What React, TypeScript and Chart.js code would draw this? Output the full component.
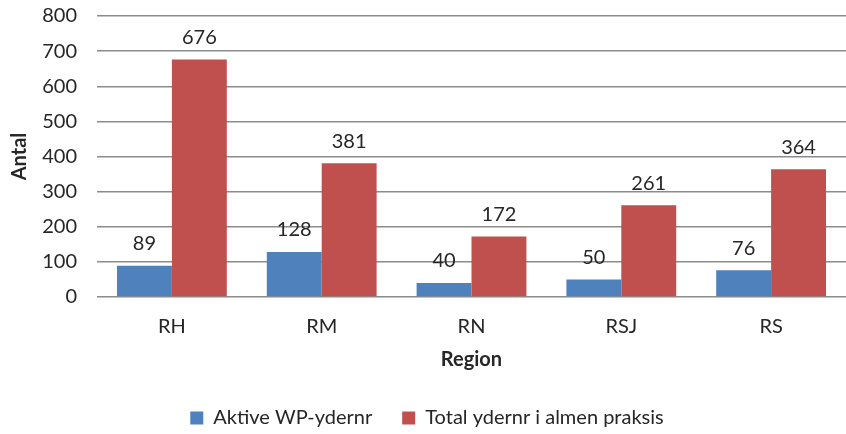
import React, { useEffect, useRef } from "react";
import { Chart, registerables } from "chart.js";

Chart.register(...registerables);

const categories = ["RH", "RM", "RN", "RSJ", "RS"];
const aktive = [89, 128, 40, 50, 76];
const total = [676, 381, 172, 261, 364];
const seriesNames = ["Aktive WP-ydernr", "Total ydernr i almen praksis"];
const yMin = 0;
const yMax = 800;
const yStep = 100;

const FONT = "Lato, 'Open Sans', sans-serif";
const TEXT = "#262626";
const FS = 20;

const valueLabels = {
  id: "valueLabels",
  afterDatasetsDraw(chart: any) {
    const ctx = chart.ctx;
    ctx.save();
    ctx.font = `${FS}px ${FONT}`;
    ctx.fillStyle = TEXT;
    ctx.textAlign = "center";
    ctx.textBaseline = "middle";
    chart.data.datasets.forEach((ds: any, i: number) => {
      const meta = chart.getDatasetMeta(i);
      meta.data.forEach((bar: any, j: number) => {
        ctx.fillText(String(ds.data[j]), bar.x, bar.y - 22);
      });
    });
    ctx.restore();
  },
};

export default function App() {
  const ref = useRef<HTMLCanvasElement>(null);
  useEffect(() => {
    document.body.style.margin = "0";
    const chart = new Chart(ref.current!, {
      type: "bar",
      data: {
        labels: categories,
        datasets: [
          { label: seriesNames[0], data: aktive, backgroundColor: "#4F81BD" },
          { label: seriesNames[1], data: total, backgroundColor: "#C0504D" },
        ],
      },
      options: {
        animation: false,
        responsive: false,
        layout: { padding: { top: 0, right: 0, left: 8, bottom: 0 } },
        datasets: { bar: { categoryPercentage: 0.733, barPercentage: 1 } },
        plugins: {
          legend: {
            position: "bottom",
            labels: {
              font: { size: FS, family: FONT },
              color: TEXT,
              boxWidth: 13,
              boxHeight: 13,
              padding: 30,
            },
          },
          tooltip: { enabled: false },
        },
        scales: {
          x: {
            grid: { display: false },
            border: { display: false },
            ticks: { font: { size: FS, family: FONT }, color: TEXT, padding: 10 },
            title: {
              display: true,
              text: "Region",
              font: { size: FS, family: FONT, weight: "bold" },
              color: TEXT,
              padding: { top: -1, bottom: 6 },
            },
          },
          y: {
            min: yMin,
            max: yMax,
            afterFit: (s: any) => { s.width = 89; },
            ticks: { stepSize: yStep, font: { size: FS, family: FONT }, color: TEXT, padding: 20 },
            grid: { color: "#8c8c8c", lineWidth: 1.4, drawTicks: false },
            border: { display: false },
            title: {
              display: true,
              text: "Antal",
              font: { size: FS, family: FONT, weight: "bold" },
              color: TEXT,
              padding: { top: 0, bottom: 2 },
            },
          },
        },
      },
      plugins: [valueLabels],
    });
    return () => chart.destroy();
  }, []);
  return (
    <div style={{ width: 846, height: 434, overflow: "hidden" }}>
      <canvas ref={ref} width={846} height={454} style={{ display: "block", marginTop: -16 }} />
    </div>
  );
}
